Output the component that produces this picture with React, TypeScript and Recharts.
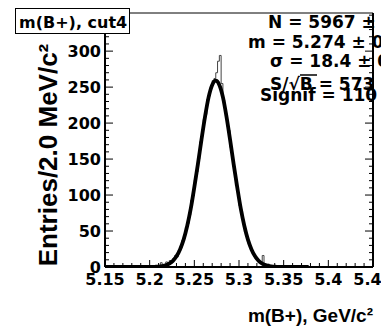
import { LineChart, Line, XAxis, YAxis } from 'recharts';

const W = 381;
const H = 331;

// axis labels
const xMajor = [5.15, 5.2, 5.25, 5.3, 5.35, 5.4, 5.45];
const xLabels = ['5.15', '5.2', '5.25', '5.3', '5.35', '5.4', '5.45'];
const yMajor = [0, 50, 100, 150, 200, 250, 300];
const yLabels = ['0', '50', '100', '150', '200', '250', '300'];

// histogram, 2 MeV bins from 5.190
const binStart = 5.19;
const binWidth = 0.002;
const counts = [
  0, 1, 0, 0, 1, 0, 2, 0, 1, 2,
  1, 6, 2, 3, 7, 4, 9, 6, 12, 16,
  14, 23, 26, 37, 40, 55, 60, 72, 93, 99,
  121, 132, 150, 174, 182, 205, 212, 233, 238, 250,
  259, 262, 270, 286, 294, 255, 232, 218, 196, 190,
  166, 150, 139, 113, 104, 85, 77, 63, 49, 43,
  33, 29, 20, 17, 11, 10, 7, 5, 16, 3,
  2, 4, 1, 0, 2, 0, 1, 0, 1, 0,
  0, 1, 0, 0, 1, 0, 1, 0, 0, 1,
  0, 1, 0, 0, 0,
];

// gaussian fit, sampled every 4 MeV from 5.150
const fitStart = 5.15;
const fitStep = 0.004;
const fitValues = [
  0, 0, 0, 0, 0, 0, 0, 0, 0, 0, 0,
  0.1, 0.1, 0.1, 0.3, 0.6, 1.3, 2.5, 4.8, 8.6, 14.8,
  24.4, 38, 57, 81, 111, 143, 177, 209, 236, 253,
  259, 253, 236, 209, 177, 143, 111, 81, 57, 38,
  24.4, 14.8, 8.6, 4.8, 2.5, 1.3, 0.6, 0.3, 0.1,
  0, 0, 0, 0, 0, 0, 0, 0,
];

const histData = counts.map((c, i) => ({ m: +(binStart + i * binWidth).toFixed(3), n: c }));
histData.push({ m: +(binStart + counts.length * binWidth).toFixed(3), n: counts[counts.length - 1] });

const fitData = fitValues.map((v, i) => ({ m: +(fitStart + i * fitStep).toFixed(3), f: v }));

const xTicks = Array.from({ length: 31 }, (_, i) => Math.round((5.15 + i * 0.01) * 1000) / 1000);
const yTicks = Array.from({ length: 36 }, (_, i) => i * 10);

const FONT = '"DejaVu Sans", sans-serif';
const findMajor = (arr: number[], v: number) => arr.findIndex((m) => Math.abs(m - v) < 1e-6);

function BottomTick({ x, y, payload }: any) {
  const i = findMajor(xMajor, payload.value);
  return (
    <g>
      <line x1={x} x2={x} y1={y} y2={y - (i >= 0 ? 7 : 4)} stroke="#000" />
      {i >= 0 && (
        <text x={x} y={y + 18} textAnchor="middle" fontFamily={FONT} fontWeight="bold" fontSize={16} fill="#000">
          {xLabels[i]}
        </text>
      )}
    </g>
  );
}

function TopTick({ x, y, payload }: any) {
  const i = findMajor(xMajor, payload.value);
  return <line x1={x} x2={x} y1={y} y2={y + (i >= 0 ? 7 : 4)} stroke="#000" />;
}

function LeftTick({ x, y, payload }: any) {
  const i = findMajor(yMajor, payload.value);
  return (
    <g>
      <line x1={x} x2={x + (i >= 0 ? 8 : 4)} y1={y} y2={y} stroke="#000" />
      {i >= 0 && (
        <text x={x - 4} y={y + 6} textAnchor="end" fontFamily={FONT} fontWeight="bold" fontSize={16} fill="#000">
          {yLabels[i]}
        </text>
      )}
    </g>
  );
}

function RightTick({ x, y, payload }: any) {
  const i = findMajor(yMajor, payload.value);
  return <line x1={x} x2={x - (i >= 0 ? 8 : 4)} y1={y} y2={y} stroke="#000" />;
}

export default function App() {
  const statStyle = { fontFamily: FONT, fontWeight: 'bold' as const, fontSize: 17, fill: '#000' };
  return (
    <div style={{ position: 'absolute', left: 0, top: 0, width: W, height: H, background: '#fff' }}>
      <LineChart width={W} height={H} margin={{ top: 12, right: 7, bottom: 63, left: 104 }}>
        <XAxis
          dataKey="m"
          type="number"
          domain={[5.15, 5.45]}
          allowDataOverflow
          ticks={xTicks}
          interval={0}
          height={1}
          tickSize={0}
          tickMargin={0}
          tickLine={false}
          axisLine={{ stroke: '#000', strokeWidth: 2 }}
          tick={(p: any) => <BottomTick {...p} />}
        />
        <XAxis
          xAxisId="top"
          orientation="top"
          type="number"
          domain={[5.15, 5.45]}
          allowDataOverflow
          ticks={xTicks}
          interval={0}
          height={1}
          tickSize={0}
          tickMargin={0}
          tickLine={false}
          axisLine={{ stroke: '#000', strokeWidth: 1 }}
          tick={(p: any) => <TopTick {...p} />}
        />
        <YAxis
          type="number"
          domain={[0, 353]}
          allowDataOverflow
          ticks={yTicks}
          interval={0}
          width={1}
          tickSize={0}
          tickMargin={0}
          tickLine={false}
          axisLine={{ stroke: '#000', strokeWidth: 2 }}
          tick={(p: any) => <LeftTick {...p} />}
        />
        <YAxis
          yAxisId="right"
          orientation="right"
          type="number"
          domain={[0, 353]}
          allowDataOverflow
          ticks={yTicks}
          interval={0}
          width={1}
          tickSize={0}
          tickMargin={0}
          tickLine={false}
          axisLine={{ stroke: '#000', strokeWidth: 2 }}
          tick={(p: any) => <RightTick {...p} />}
        />
        <Line
          data={histData}
          dataKey="n"
          type="stepAfter"
          stroke="#444"
          strokeWidth={1}
          dot={false}
          isAnimationActive={false}
        />
        <Line
          data={fitData}
          dataKey="f"
          type="monotone"
          stroke="#000"
          strokeWidth={3.8}
          dot={false}
          isAnimationActive={false}
        />
      </LineChart>
      <svg width={W} height={H} style={{ position: 'absolute', left: 0, top: 0, pointerEvents: 'none' }}>
        <rect x={15.5} y={8.5} width={114} height={25} fill="#fff" stroke="#000" />
        <text x={19} y={28} fontFamily={FONT} fontWeight="bold" fontSize={16} fill="#000">
          m(B+), cut4
        </text>
        <text x={268} y={28} {...statStyle}>N = 5967 ±</text>
        <text x={248} y={48} {...statStyle}>m = 5.274 ± 0</text>
        <text x={270} y={67} {...statStyle}>σ = 18.4 ± 0</text>
        <text x={270} y={90} {...statStyle}>S/√B = 573</text>
        {/* radical bar over B */}
        <line x1={300} x2={317} y1={75} y2={75} stroke="#000" strokeWidth={1.5} />
        <text x={260} y={101} {...statStyle}>Signif = 110</text>
        <text
          x={57}
          y={155}
          transform="rotate(-90 57 155)"
          textAnchor="middle"
          fontFamily='"Liberation Sans", Arial, sans-serif'
          fontWeight="bold"
          fontSize={26}
          fill="#000"
        >
          Entries/2.0 MeV/c²
        </text>
        <text
          x={373}
          y={322}
          textAnchor="end"
          fontFamily='"Liberation Sans", Arial, sans-serif'
          fontWeight="bold"
          fontSize={19}
          fill="#000"
        >
          m(B+), GeV/c²
        </text>
      </svg>
    </div>
  );
}
